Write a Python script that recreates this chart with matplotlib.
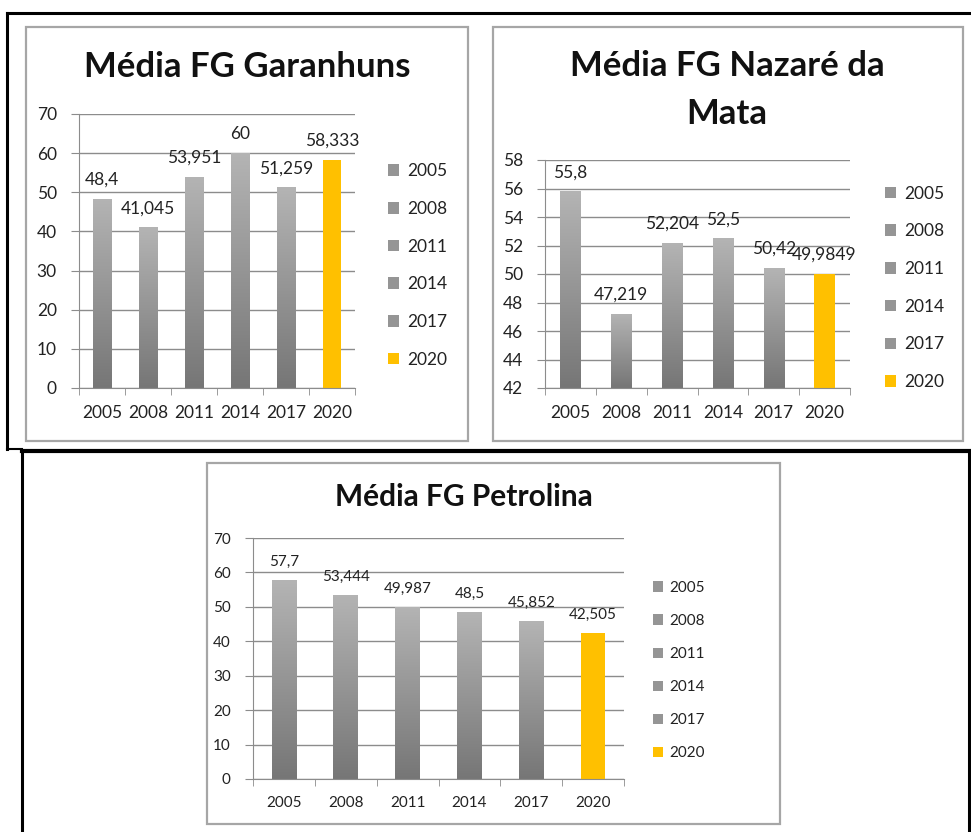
import numpy as np
import matplotlib
matplotlib.use("Agg")
import matplotlib.pyplot as plt
from matplotlib.colors import LinearSegmentedColormap
from matplotlib.patches import Patch, Rectangle
from matplotlib.lines import Line2D

plt.rcParams['font.family'] = ['Lato', 'DejaVu Sans']

# data
years = ['2005', '2008', '2011', '2014', '2017', '2020']
garanhuns = [48.4, 41.045, 53.951, 60, 51.259, 58.333]
nazare = [55.8, 47.219, 52.204, 52.5, 50.42, 49.9849]
petrolina = [57.7, 53.444, 49.987, 48.5, 45.852, 42.505]

GRID = '#8c8c8c'
TXT = '#222222'
YELLOW = '#FFC000'
shade_cmap = LinearSegmentedColormap.from_list('shade', ['#767676', '#b4b4b4'])

W, H = 971, 832
fig = plt.figure(figsize=(W / 100, H / 100), dpi=100)


def px_box(x0, y0, x1, y1):
    # pixel box -> figure fraction [left, bottom, width, height]
    return [x0 / W, 1 - y1 / H, (x1 - x0) / W, (y1 - y0) / H]


def chart(box, vals, ylim, step, fs, leg_anchor, leg_space):
    ax = fig.add_axes(px_box(*box))
    x = np.arange(len(years))
    cols = ['#999999'] * (len(years) - 1) + [YELLOW]
    bars = ax.bar(x, vals, width=0.4, color=cols, zorder=2)
    # grey gradient like the excel bars
    grad = np.linspace(0, 1, 256).reshape(-1, 1)
    for b in bars[:-1]:
        x0 = b.get_x()
        im = ax.imshow(grad, cmap=shade_cmap, origin='lower', aspect='auto',
                       extent=(x0, x0 + b.get_width(), ylim[0], b.get_height()), zorder=2.1)
        im.set_clip_path(b)
    ax.set_xlim(-0.5, len(years) - 0.5)
    ax.set_ylim(*ylim)
    for b, v in zip(bars, vals):
        ax.annotate(f"{v:g}".replace('.', ','), (b.get_x() + b.get_width() / 2, v),
                    xytext=(0, 8), textcoords='offset points', ha='center', va='bottom',
                    fontsize=fs, color=TXT, zorder=5)
    ax.set_yticks(np.arange(ylim[0], ylim[1] + 0.1, step))
    ax.set_xticks(x)
    ax.set_xticklabels(years)
    ax.set_xticks(np.arange(-0.5, len(years)), minor=True)
    ax.tick_params(axis='x', which='major', length=0, pad=12, labelsize=fs, labelcolor=TXT)
    ax.tick_params(axis='x', which='minor', length=5, color=GRID, direction='out')
    ax.tick_params(axis='y', length=6, color=GRID, pad=10, labelsize=fs, labelcolor=TXT)
    ax.grid(axis='y', color=GRID, lw=1, zorder=0)
    ax.set_axisbelow(True)
    for s in ['top', 'right']:
        ax.spines[s].set_visible(False)
    for s in ['left', 'bottom']:
        ax.spines[s].set_color(GRID)
    handles = [Patch(facecolor='#959595')] * (len(years) - 1) + [Patch(facecolor=YELLOW)]
    ax.legend(handles, years, loc='center left', bbox_to_anchor=leg_anchor, frameon=False,
              fontsize=fs, labelcolor=TXT, handlelength=0.65, handleheight=0.65,
              handletextpad=0.45, labelspacing=leg_space, borderpad=0, borderaxespad=0)
    return ax


chart((79, 114, 355, 388), garanhuns, (0, 70), 10, 12.5, (1.12, 0.447), 1.25)
chart((545, 160, 850, 388), nazare, (42, 58), 2, 12.5, (1.115, 0.439), 1.25)
chart((253, 538, 624, 779), petrolina, (0, 70), 10, 11, (1.078, 0.45), 1.25)

fig.text(247 / W, 1 - 67 / H, 'Média FG Garanhuns', ha='center', va='center',
         fontsize=25, fontweight='bold', color='#111111')
fig.text(727 / W, 1 - 90 / H, 'Média FG Nazaré da\nMata', ha='center', va='center',
         fontsize=25, fontweight='bold', color='#111111', linespacing=1.6)
fig.text(464 / W, 1 - 497 / H, 'Média FG Petrolina', ha='center', va='center',
         fontsize=21.5, fontweight='bold', color='#111111')

# grey chart-area frames
for x0, y0, x1, y1 in [(26, 27, 468, 441), (493, 27, 963, 441), (207, 463, 780, 824)]:
    fig.patches.append(Rectangle((x0 / W, 1 - y1 / H), (x1 - x0) / W, (y1 - y0) / H,
                                 transform=fig.transFigure, fill=False,
                                 edgecolor='#a6a6a6', lw=1.6))

# black table borders
segs = [((7, 13), (971, 13), 2.2), ((7, 13), (7, 449), 2.2), ((7, 449), (22, 449), 1.5),
        ((22, 451), (971, 451), 3), ((22, 451), (22, 832), 2.2), ((969, 451), (969, 832), 2.2)]
for (xa, ya), (xb, yb), lw in segs:
    fig.add_artist(Line2D([xa / W, xb / W], [1 - ya / H, 1 - yb / H], transform=fig.transFigure,
                          color='black', lw=lw, solid_capstyle='projecting'))

fig.savefig('out.png', dpi=100, facecolor='white')
